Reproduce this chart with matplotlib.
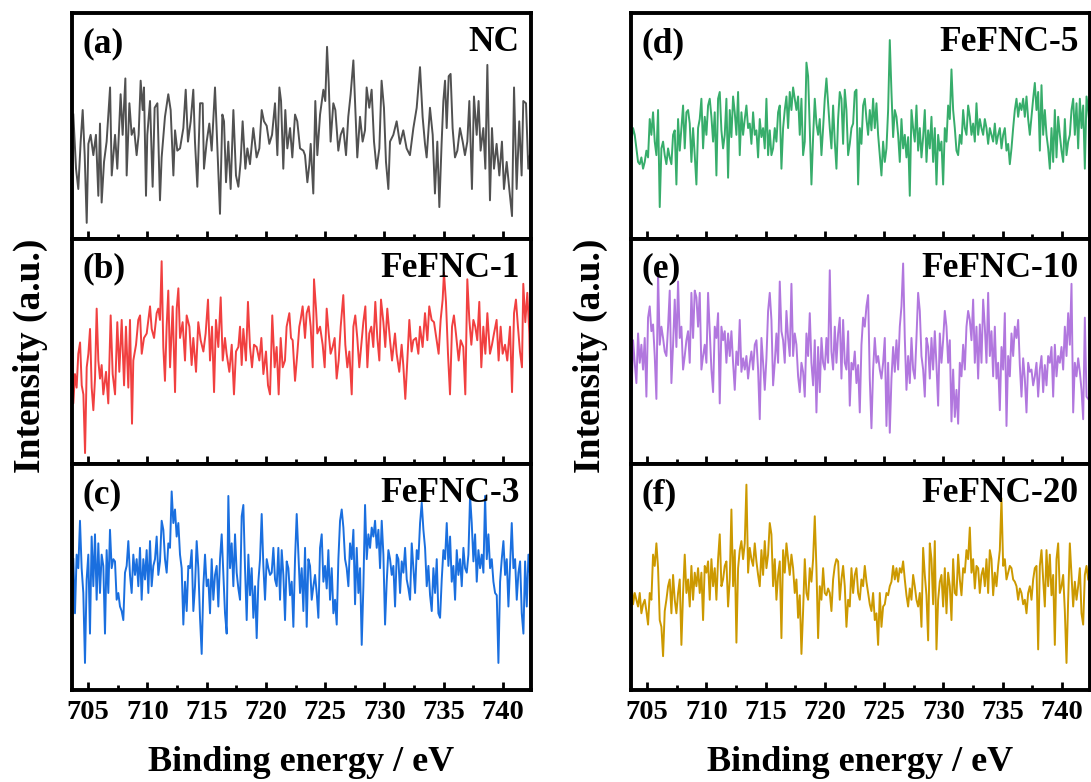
import matplotlib
matplotlib.use('Agg')
import matplotlib.pyplot as plt
import numpy as np
from matplotlib.ticker import MultipleLocator

plt.rcParams['font.family'] = 'Liberation Serif'
plt.rcParams['font.weight'] = 'bold'
plt.rcParams['axes.labelweight'] = 'bold'

# Fe 2p region, intensities in arbitrary units (0-100 per panel)
be_nc = [703.76, 703.99, 704.18, 704.38, 704.55, 704.72, 704.89, 705.03, 705.22, 705.45,
         705.67, 705.87, 706.01, 706.15, 706.35, 706.57, 706.86, 707.00, 707.28, 707.47,
         707.75, 707.92, 708.15, 708.26, 708.49, 708.68, 708.88, 709.10, 709.27, 709.44,
         709.61, 709.72, 709.89, 710.00, 710.23, 710.45, 710.62, 710.85, 711.07, 711.21,
         711.49, 711.77, 711.97, 712.20, 712.34, 712.53, 712.76, 713.04, 713.24, 713.43,
         713.66, 713.88, 714.02, 714.22, 714.45, 714.67, 714.78, 715.01, 715.23, 715.43,
         715.71, 715.91, 716.13, 716.33, 716.47, 716.64, 716.83, 717.03, 717.26, 717.48,
         717.68, 717.87, 718.04, 718.27, 718.44, 718.66, 718.94, 719.22, 719.45, 719.65,
         719.84, 720.07, 720.29, 720.52, 720.77, 720.97, 721.14, 721.28, 721.47, 721.64,
         721.81, 722.04, 722.23, 722.46, 722.65, 722.88, 723.16, 723.30, 723.50, 723.67,
         723.78, 724.00, 724.17, 724.34, 724.57, 724.85, 725.01, 725.16, 725.30, 725.46,
         725.69, 725.86, 726.11, 726.31, 726.53, 726.76, 726.95, 727.15, 727.38, 727.54,
         727.71, 727.94, 728.16, 728.36, 728.50, 728.72, 728.92, 729.12, 729.34, 729.57,
         729.76, 729.96, 730.13, 730.33, 730.47, 730.75, 731.03, 731.31, 731.59, 731.87,
         732.15, 732.44, 732.72, 733.00, 733.22, 733.42, 733.56, 733.84, 734.07, 734.26,
         734.46, 734.63, 734.82, 734.97, 735.11, 735.25, 735.42, 735.58, 735.75, 735.95,
         736.15, 736.37, 736.60, 736.79, 736.99, 737.16, 737.38, 737.55, 737.78, 737.94,
         738.11, 738.34, 738.51, 738.68, 738.90, 739.07, 739.24, 739.46, 739.69, 739.91,
         740.08, 740.31, 740.53, 740.76, 740.93, 741.15, 741.37, 741.57, 741.71, 741.94,
         742.13, 742.27]
int_nc = [55, 31, 22, 43, 57, 37, 7, 42, 46, 37,
          46, 19, 51, 16, 34, 43, 67, 28, 46, 31,
          64, 46, 71, 28, 60, 46, 49, 37, 46, 70,
          57, 67, 19, 46, 61, 23, 58, 60, 17, 36,
          54, 64, 57, 28, 48, 39, 40, 49, 66, 43,
          52, 66, 43, 23, 60, 60, 31, 43, 51, 39,
          67, 40, 11, 55, 52, 25, 43, 22, 57, 28,
          23, 34, 52, 31, 40, 33, 49, 36, 40, 57,
          52, 50, 42, 46, 60, 37, 67, 61, 31, 57,
          40, 49, 36, 55, 52, 40, 39, 37, 25, 33,
          42, 20, 61, 37, 55, 66, 61, 85, 69, 43,
          60, 57, 39, 46, 49, 37, 54, 64, 79, 58,
          36, 54, 43, 48, 67, 58, 66, 43, 31, 40,
          70, 58, 34, 22, 43, 46, 52, 42, 48, 40,
          37, 49, 58, 76, 54, 42, 36, 58, 46, 20,
          43, 14, 42, 61, 70, 49, 72, 73, 49, 36,
          39, 49, 43, 37, 43, 61, 22, 63, 46, 61,
          39, 49, 31, 77, 17, 49, 31, 42, 28, 43,
          22, 34, 22, 10, 67, 22, 52, 28, 61, 60,
          31, 37]

be_f1 = [703.65, 703.76, 703.90, 704.04, 704.18, 704.33, 704.47, 704.61, 704.75, 704.89,
         705.03, 705.17, 705.31, 705.45, 705.59, 705.73, 705.87, 706.01, 706.15, 706.29,
         706.52, 706.71, 706.91, 707.08, 707.28, 707.47, 707.64, 707.84, 708.04, 708.20,
         708.40, 708.54, 708.71, 708.82, 709.05, 709.24, 709.39, 709.53, 709.72, 709.95,
         710.09, 710.23, 710.37, 710.57, 710.79, 710.93, 711.07, 711.21, 711.35, 711.49,
         711.63, 711.77, 711.92, 712.14, 712.34, 712.48, 712.62, 712.76, 712.98, 713.18,
         713.32, 713.55, 713.74, 713.88, 714.11, 714.30, 714.50, 714.73, 714.92, 715.12,
         715.29, 715.46, 715.63, 715.79, 715.99, 716.19, 716.36, 716.55, 716.69, 716.92,
         717.12, 717.31, 717.48, 717.68, 717.82, 717.96, 718.10, 718.32, 718.49, 718.66,
         718.83, 719.00, 719.22, 719.45, 719.62, 719.79, 720.01, 720.18, 720.35, 720.54,
         720.74, 720.91, 721.08, 721.25, 721.42, 721.61, 721.75, 721.98, 722.12, 722.26,
         722.46, 722.65, 722.82, 722.93, 723.10, 723.30, 723.44, 723.61, 723.78, 723.95,
         724.06, 724.23, 724.34, 724.57, 724.79, 724.96, 725.13, 725.30, 725.46, 725.63,
         725.80, 725.97, 726.14, 726.31, 726.53, 726.70, 726.87, 727.04, 727.24, 727.38,
         727.54, 727.71, 727.88, 728.05, 728.22, 728.39, 728.56, 728.72, 728.89, 729.06,
         729.23, 729.40, 729.57, 729.71, 729.91, 730.07, 730.24, 730.47, 730.64, 730.89,
         731.03, 731.25, 731.45, 731.59, 731.76, 731.93, 732.10, 732.29, 732.44, 732.66,
         732.86, 733.00, 733.22, 733.42, 733.62, 733.78, 733.98, 734.18, 734.40, 734.57,
         734.74, 734.91, 735.02, 735.19, 735.36, 735.53, 735.70, 735.86, 736.03, 736.26,
         736.43, 736.65, 736.82, 736.99, 737.16, 737.33, 737.50, 737.66, 737.83, 738.00,
         738.17, 738.34, 738.51, 738.68, 738.90, 739.07, 739.24, 739.46, 739.63, 739.80,
         739.97, 740.17, 740.36, 740.59, 740.76, 740.93, 741.09, 741.26, 741.43, 741.60,
         741.71, 741.88, 742.05, 742.22, 742.33]
int_f1 = [52, 27, 40, 34, 49, 54, 35, 31, 5, 43,
          49, 60, 34, 24, 38, 69, 46, 38, 44, 31,
          41, 27, 66, 40, 31, 63, 41, 64, 35, 61,
          34, 64, 18, 46, 53, 64, 66, 49, 56, 58,
          64, 70, 60, 56, 67, 69, 64, 90, 52, 37,
          61, 77, 43, 70, 32, 69, 78, 56, 63, 46,
          66, 61, 44, 56, 41, 63, 55, 50, 58, 73,
          46, 61, 32, 64, 52, 74, 46, 56, 49, 41,
          53, 31, 50, 52, 61, 44, 60, 46, 72, 52,
          43, 53, 52, 46, 56, 40, 50, 35, 31, 66,
          43, 52, 31, 56, 43, 46, 61, 67, 56, 55,
          37, 49, 61, 64, 70, 56, 67, 70, 61, 43,
          82, 69, 58, 61, 53, 43, 69, 58, 49, 52,
          56, 38, 46, 61, 75, 53, 43, 50, 31, 61,
          66, 56, 43, 53, 63, 70, 43, 58, 61, 52,
          72, 56, 46, 73, 63, 52, 69, 55, 46, 58,
          49, 41, 53, 44, 29, 46, 64, 50, 55, 56,
          49, 61, 52, 67, 55, 70, 64, 63, 55, 49,
          64, 73, 85, 72, 49, 31, 61, 66, 58, 46,
          55, 52, 31, 82, 64, 53, 64, 61, 55, 72,
          43, 61, 49, 67, 49, 53, 58, 64, 46, 61,
          49, 53, 46, 61, 32, 67, 73, 61, 50, 43,
          80, 63, 76, 58, 31]

# uniform scans, 0.1406 eV step
STEP = 0.1406
START_F3 = 703.76
int_f3 = [58, 34, 60, 54, 75, 54, 43, 12, 49, 60,
          25, 68, 46, 69, 40, 65, 43, 60, 55, 25,
          62, 43, 71, 54, 58, 57, 40, 43, 37, 35,
          31, 52, 55, 66, 51, 43, 60, 51, 58, 46,
          63, 40, 58, 49, 62, 43, 66, 46, 55, 58,
          68, 51, 57, 75, 71, 58, 52, 65, 63, 88,
          74, 80, 68, 74, 60, 54, 29, 48, 35, 55,
          54, 62, 35, 46, 66, 54, 32, 16, 46, 60,
          46, 49, 34, 58, 40, 51, 55, 37, 58, 69,
          52, 34, 25, 86, 54, 65, 46, 69, 52, 45,
          40, 77, 82, 54, 31, 60, 42, 54, 32, 46,
          23, 48, 58, 78, 55, 40, 58, 54, 51, 52,
          63, 49, 46, 63, 40, 62, 51, 31, 57, 54,
          42, 48, 28, 58, 78, 60, 43, 54, 35, 63,
          28, 58, 55, 40, 46, 51, 43, 32, 63, 69,
          48, 55, 45, 62, 40, 54, 34, 40, 29, 58,
          75, 80, 72, 58, 54, 46, 65, 58, 71, 38,
          63, 43, 54, 20, 46, 82, 58, 69, 63, 72,
          68, 75, 63, 71, 54, 75, 60, 29, 48, 62,
          58, 51, 55, 37, 60, 58, 43, 57, 52, 63,
          49, 45, 40, 65, 54, 43, 62, 58, 74, 83,
          71, 63, 46, 55, 42, 35, 54, 43, 58, 34,
          32, 49, 62, 58, 74, 55, 68, 48, 55, 40,
          62, 51, 58, 46, 63, 54, 52, 60, 86, 74,
          57, 69, 48, 62, 54, 60, 52, 86, 58, 69,
          54, 58, 48, 43, 42, 12, 48, 58, 66, 51,
          58, 37, 55, 74, 54, 58, 40, 52, 57, 34,
          25, 57, 37, 60, 51]

START_RIGHT = 703.68
int_f5 = [43, 49, 46, 40, 34, 33, 36, 31, 34, 39,
          36, 53, 46, 56, 43, 37, 57, 14, 40, 43,
          37, 33, 40, 36, 33, 46, 48, 24, 53, 39,
          49, 59, 40, 56, 57, 51, 34, 49, 37, 24,
          49, 53, 62, 40, 54, 46, 59, 62, 54, 43,
          56, 28, 62, 65, 48, 40, 46, 62, 27, 57,
          45, 63, 56, 46, 65, 37, 56, 46, 53, 59,
          49, 51, 42, 56, 46, 48, 36, 53, 45, 49,
          40, 62, 37, 48, 37, 40, 49, 43, 56, 59,
          31, 49, 57, 63, 49, 65, 57, 67, 62, 57,
          63, 46, 62, 37, 43, 78, 72, 49, 24, 45,
          62, 51, 46, 53, 37, 49, 62, 71, 60, 49,
          40, 59, 43, 31, 53, 65, 62, 42, 66, 57,
          37, 42, 49, 51, 65, 66, 24, 49, 42, 59,
          62, 53, 46, 57, 48, 62, 49, 60, 46, 37,
          28, 43, 34, 40, 57, 88, 65, 45, 57, 54,
          46, 34, 53, 40, 46, 36, 45, 19, 57, 49,
          43, 59, 39, 49, 36, 45, 57, 34, 48, 40,
          54, 34, 49, 24, 46, 39, 43, 24, 49, 43,
          59, 53, 75, 57, 49, 39, 37, 46, 42, 57,
          49, 46, 59, 54, 46, 51, 43, 60, 46, 53,
          49, 46, 53, 49, 42, 49, 46, 43, 51, 42,
          46, 49, 40, 46, 49, 39, 42, 33, 40, 49,
          57, 62, 54, 60, 57, 62, 54, 63, 53, 46,
          54, 62, 69, 57, 65, 39, 68, 46, 57, 46,
          40, 31, 49, 34, 57, 36, 54, 46, 39, 34,
          53, 37, 43, 46, 57, 62, 46, 60, 40, 62,
          49, 59, 31, 63, 57, 49]
int_f10 = [30, 55, 45, 36, 58, 45, 53, 42, 56, 30,
           65, 70, 59, 62, 48, 29, 85, 53, 61, 56,
           50, 48, 61, 77, 36, 53, 73, 52, 81, 56,
           61, 42, 48, 55, 59, 45, 76, 56, 77, 74,
           61, 76, 42, 48, 53, 45, 76, 59, 42, 32,
           61, 56, 67, 27, 61, 55, 59, 45, 58, 48,
           59, 45, 33, 50, 44, 64, 41, 47, 42, 48,
           38, 45, 50, 42, 53, 55, 42, 20, 56, 45,
           33, 47, 68, 76, 64, 35, 45, 58, 45, 81,
           59, 55, 45, 68, 56, 48, 80, 48, 58, 53,
           39, 32, 45, 41, 30, 58, 48, 67, 45, 35,
           55, 23, 52, 32, 56, 45, 42, 56, 45, 86,
           50, 42, 61, 45, 58, 65, 38, 64, 45, 42,
           59, 26, 45, 42, 50, 36, 44, 23, 53, 65,
           61, 70, 75, 38, 16, 42, 56, 45, 48, 42,
           38, 45, 56, 17, 45, 14, 38, 52, 41, 55,
           42, 61, 70, 89, 56, 33, 48, 36, 56, 42,
           38, 56, 76, 68, 48, 42, 30, 56, 52, 38,
           56, 42, 59, 44, 26, 58, 45, 55, 68, 61,
           45, 55, 19, 42, 21, 33, 18, 45, 39, 53,
           42, 61, 68, 64, 55, 73, 45, 61, 38, 62,
           45, 73, 61, 45, 76, 48, 59, 39, 61, 38,
           45, 24, 52, 42, 67, 17, 48, 39, 58, 48,
           61, 56, 64, 44, 30, 47, 38, 23, 45, 41,
           42, 35, 39, 45, 30, 42, 48, 32, 44, 35,
           48, 45, 52, 30, 53, 39, 48, 45, 52, 42,
           61, 48, 67, 53, 80, 23, 45, 39, 47, 41,
           33, 20, 65, 30, 29]
int_f20 = [48, 38, 43, 40, 37, 43, 34, 38, 40, 35,
           29, 43, 40, 60, 55, 65, 54, 31, 28, 15,
           35, 40, 46, 49, 34, 51, 40, 34, 43, 49,
           20, 43, 60, 43, 49, 37, 55, 40, 52, 46,
           54, 43, 52, 31, 55, 52, 57, 40, 58, 46,
           54, 40, 58, 69, 46, 49, 55, 57, 37, 49,
           80, 46, 62, 21, 54, 62, 66, 58, 65, 91,
           52, 63, 58, 55, 65, 57, 51, 46, 62, 51,
           66, 54, 60, 74, 69, 46, 58, 40, 51, 57,
           23, 62, 52, 65, 58, 51, 60, 54, 43, 49,
           32, 42, 16, 35, 58, 43, 40, 54, 48, 58,
           77, 54, 23, 46, 40, 54, 43, 42, 45, 43,
           35, 49, 55, 58, 57, 40, 49, 55, 46, 28,
           40, 37, 54, 43, 51, 54, 43, 40, 49, 46,
           55, 48, 43, 38, 35, 43, 31, 34, 20, 43,
           28, 37, 38, 43, 42, 46, 48, 55, 49, 54,
           48, 54, 52, 57, 49, 42, 37, 45, 40, 51,
           46, 40, 37, 43, 28, 63, 51, 42, 22, 65,
           58, 38, 66, 18, 40, 48, 51, 37, 54, 34,
           52, 46, 31, 58, 43, 42, 60, 49, 42, 54,
           52, 62, 58, 72, 52, 58, 45, 55, 54, 43,
           51, 54, 46, 58, 43, 62, 58, 42, 52, 46,
           55, 62, 85, 55, 58, 49, 52, 55, 54, 49,
           48, 46, 40, 45, 43, 38, 40, 34, 43, 46,
           40, 49, 54, 55, 18, 55, 62, 49, 37, 62,
           46, 60, 42, 51, 20, 58, 65, 43, 46, 51,
           35, 12, 40, 65, 51, 37, 48, 40, 46, 54,
           34, 29, 51, 55, 49]

tags = ['(a)', '(b)', '(c)', '(d)', '(e)', '(f)']
names = ['NC', 'FeFNC-1', 'FeFNC-3', 'FeFNC-5', 'FeFNC-10', 'FeFNC-20']
colors = ['#515151', '#F14040', '#1A6FDF', '#37AD6B', '#B177DE', '#CC9900']

be_f3 = START_F3 + STEP * np.arange(len(int_f3))
be_f5 = START_RIGHT + STEP * np.arange(len(int_f5))
be_f10 = START_RIGHT + STEP * np.arange(len(int_f10))
be_f20 = START_RIGHT + STEP * np.arange(len(int_f20))
energies = [be_nc, be_f1, be_f3, be_f5, be_f10, be_f20]
intensities = [int_nc, int_f1, int_f3, int_f5, int_f10, int_f20]

fig = plt.figure(figsize=(10.91, 7.82), dpi=100)
col_left = [0.066, 0.5784]
ax_w = 0.4207
ax_h = 0.2886
bottom0 = 0.1176

for i in range(6):
    col, row = divmod(i, 3)
    ax = fig.add_axes([col_left[col], bottom0 + (2 - row) * ax_h, ax_w, ax_h])
    ax.plot(energies[i], intensities[i], color=colors[i], lw=1.4)
    ax.set_xlim(703.65, 742.36)
    ax.set_ylim(0, 100)
    ax.set_yticks([])
    ax.xaxis.set_major_locator(MultipleLocator(5))
    ax.xaxis.set_minor_locator(MultipleLocator(2.5))
    ax.tick_params(axis='x', which='both', direction='in', top=False,
                   width=2, labelsize=20.5, pad=7)
    ax.tick_params(axis='x', which='major', length=6)
    ax.tick_params(axis='x', which='minor', length=3.5)
    for s in ax.spines.values():
        s.set_linewidth(2.8)
    if row < 2:
        ax.tick_params(labelbottom=False)
    else:
        ax.set_xlabel('Binding energy / eV', fontsize=26, labelpad=15)
    ax.text(0.022, 0.865, tags[i], transform=ax.transAxes, fontsize=25.5,
            ha='left', va='center')
    ax.text(0.975, 0.87, names[i], transform=ax.transAxes, fontsize=25.5,
            ha='right', va='center')

fig.text(0.028, 0.545, 'Intensity (a.u.)', rotation=90, fontsize=27,
         ha='center', va='center')
fig.text(0.541, 0.545, 'Intensity (a.u.)', rotation=90, fontsize=27,
         ha='center', va='center')

fig.savefig('out.png', dpi=100)
